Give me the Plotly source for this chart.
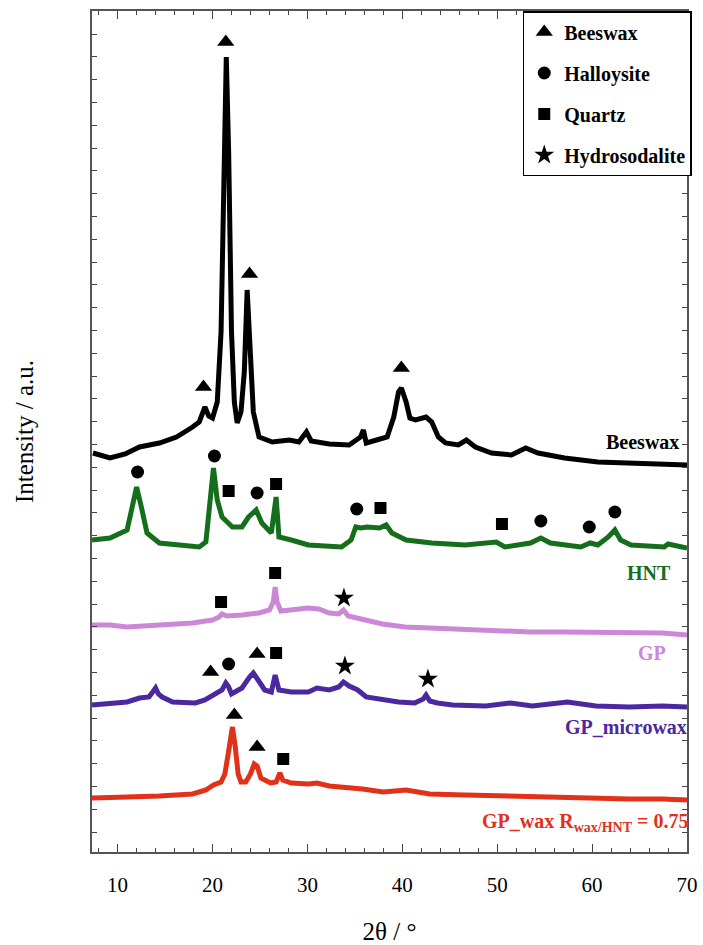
import plotly.graph_objects as go

# ---------------- data (2θ in degrees, intensity in arbitrary offset units) ----------------
bees_x = [7.4, 9.2, 10.8, 12.3, 14.4, 16.2, 17.9, 18.6, 19.2, 19.6, 20.0, 20.5, 20.9, 21.2, 21.45,
          21.7, 22.0, 22.3, 22.6, 23.0, 23.35, 23.65, 24.0, 24.3, 24.9, 26.3, 28.1, 29.1, 29.9,
          30.4, 32.3, 34.4, 35.6, 35.9, 36.2, 37.5, 38.4, 39.1, 39.6, 39.9, 40.4, 40.8, 41.4,
          42.5, 43.1, 43.8, 44.55, 45.9, 46.75, 47.7, 49.4, 51.5, 53.0, 54.3, 57.1, 60.6, 64.1,
          67.6, 70.0]
bees_y = [399, 394, 398, 405, 409, 415, 425, 430, 445, 436, 434, 450, 520, 700, 795,
          700, 520, 450, 429, 440, 480, 562, 480, 440, 415, 410, 412, 410, 420,
          411, 408, 407, 415, 422, 409, 412, 415, 435, 460, 464, 450, 434, 432,
          435, 430, 415, 409, 407, 412, 405, 399, 397, 404, 399, 394, 390, 389,
          387, 387]

hnt_x = [7.3, 9.2, 11.0, 11.6, 12.0, 12.5, 13.1, 14.4, 16.2, 18.6, 19.3, 19.8, 20.1, 20.5, 21.0,
         22.1, 23.1, 23.8, 24.6, 25.2, 26.2, 26.7, 27.0, 28.3, 30.1, 33.6, 34.6, 35.1, 35.6,
         36.3, 37.6, 38.3, 38.9, 40.4, 43.1, 46.6, 49.9, 50.8, 53.5, 54.6, 55.6, 58.8, 59.8,
         60.6, 61.7, 62.4, 63.0, 64.1, 67.6, 68.0, 70.0]
hnt_y = [312, 314, 322, 345, 365, 345, 319, 309, 307, 305, 310, 352, 384, 352, 335,
         325, 325, 335, 342, 329, 319, 355, 315, 312, 307, 305, 312, 325, 324,
         325, 324, 327, 319, 312, 309, 307, 310, 305, 309, 314, 309, 305, 309,
         307, 315, 322, 312, 307, 305, 308, 304]

gp_x = [7.3, 9.2, 11.0, 14.4, 17.9, 20.0, 20.7, 21.0, 21.5, 23.1, 24.9, 26.0, 26.4, 26.6, 26.8,
        27.2, 28.3, 30.1, 31.2, 32.3, 33.3, 33.8, 34.3, 35.9, 37.9, 40.3, 43.1, 46.6, 50.0,
        53.5, 57.0, 60.4, 63.9, 67.4, 70.0]
gp_y = [227, 227, 225, 227, 229, 232, 235, 238, 236, 237, 239, 242, 250, 265, 250,
        241, 242, 244, 243, 239, 238, 242, 236, 232, 228, 225, 224, 222, 221,
        220, 220, 220, 219, 219, 217]

micro_x = [7.3, 9.2, 11.0, 12.3, 13.3, 13.7, 14.0, 14.3, 14.7, 15.8, 18.2, 19.2, 20.3, 21.0, 21.4,
           21.7, 22.0, 23.1, 23.9, 24.3, 24.8, 25.5, 26.2, 26.6, 27.0, 28.3, 30.1, 31.0, 32.3,
           33.3, 33.8, 34.4, 35.3, 36.2, 39.6, 41.3, 42.2, 42.5, 42.9, 43.7, 45.3, 48.8, 51.4,
           53.7, 57.4, 60.4, 63.9, 67.4, 70.0]
micro_y = [147, 148, 150, 154, 155, 160, 164, 158, 155, 150, 149, 152, 159, 162, 169,
           165, 158, 164, 175, 179, 172, 162, 160, 177, 162, 160, 160, 164, 162,
           165, 170, 166, 162, 155, 150, 149, 153, 157, 151, 149, 147, 146, 149,
           146, 150, 146, 145, 146, 145]

wax_x = [7.3, 9.2, 11.0, 14.4, 17.9, 19.3, 20.1, 20.9, 21.3, 21.6, 21.9, 22.1, 22.4, 22.7, 23.0,
         23.5, 24.0, 24.4, 24.7, 25.1, 26.1, 26.7, 27.1, 27.4, 28.3, 30.1, 31.0, 32.3, 35.8,
         38.0, 40.4, 42.9, 46.6, 50.0, 53.5, 57.0, 60.4, 63.9, 67.4, 70.0]
wax_y = [54, 55, 55, 56, 58, 62, 67, 70, 78, 95, 115, 125, 105, 78, 70,
         70, 78, 88, 86, 74, 69, 70, 79, 72, 69, 68, 69, 66, 63,
         60, 62, 58, 57, 56, 55, 54, 54, 53, 53, 52]

# phase markers
tri_x = [19.05, 21.4, 23.9, 39.9, 19.8, 24.7, 22.3, 24.7]
tri_y = [465, 810, 578, 484, 180, 198, 137, 105]
cir_x = [12.1, 20.2, 24.7, 35.2, 54.6, 59.7, 62.4, 21.7]
cir_y = [380, 396, 359, 343, 331, 325, 340, 188]
sq_x = [21.7, 26.7, 37.7, 50.5, 20.9, 26.6, 26.7, 27.45]
sq_y = [361, 368, 344, 328, 250, 279, 199, 93]
star_x = [33.85, 33.95, 42.7]
star_y = [254, 186, 173]

x_ticks = [10, 20, 30, 40, 50, 60, 70]

# sample labels: text, colour, x(right edge), y, pixel shift
labels = [
    ("<b>Beeswax</b>", "black", 69.35, 410, 0),
    ("<b>HNT</b>", "rgb(20,110,28)", 68.5, 279, 0),
    ("<b>GP</b>", "rgb(205,135,215)", 68.0, 199, 0),
    ("<b>GP_microwax</b>", "rgb(75,40,160)", 70.0, 125, 2),
    ("<b>GP_wax R<sub>wax/HNT</sub> = 0.75</b>", "rgb(225,50,25)", 70.0, 30, 3),
]

SERIF = "Liberation Serif, Times New Roman, serif"

fig = go.Figure()

samples = [
    (bees_x, bees_y, "black"),
    (hnt_x, hnt_y, "rgb(20,110,28)"),
    (gp_x, gp_y, "rgb(205,135,215)"),
    (micro_x, micro_y, "rgb(75,40,160)"),
    (wax_x, wax_y, "rgb(225,50,25)"),
]
for xs, ys, col in samples:
    fig.add_trace(go.Scatter(x=xs, y=ys, mode="lines", line=dict(color=col, width=5),
                             showlegend=False, hoverinfo="skip"))

markers = [
    (tri_x, tri_y, "triangle-up", "Beeswax", 15),
    (cir_x, cir_y, "circle", "Halloysite", 13),
    (sq_x, sq_y, "square", "Quartz", 12),
    (star_x, star_y, "star", "Hydrosodalite", 15),
]
for i, (xs, ys, sym, name, sz) in enumerate(markers):
    fig.add_trace(go.Scatter(x=xs, y=ys, mode="markers", name="<b>" + name + "</b>",
                             legendgroup=name,
                             marker=dict(symbol=sym, color="black", size=sz, line=dict(width=0))))

for txt, col, xr, yy, sh in labels:
    fig.add_annotation(x=xr, y=yy, text=txt, showarrow=False, xanchor="right", yanchor="middle",
                       xshift=sh, font=dict(family=SERIF, size=20, color=col))

fig.update_layout(
    width=703, height=945,
    margin=dict(l=92, r=13, t=11, b=93),
    plot_bgcolor="white", paper_bgcolor="white",
    font=dict(family=SERIF, size=20, color="black"),
    showlegend=True,
    legend=dict(x=1.008, y=1, xanchor="right", yanchor="top", bordercolor="black", borderwidth=1.5,
                bgcolor="white", font=dict(family=SERIF, size=20, color="black"),
                tracegroupgap=12, traceorder="grouped", itemsizing="trace",
                entrywidth=140, entrywidthmode="pixels"),
)

fig.update_xaxes(
    range=[7.3, 70], tickvals=x_ticks, ticks="inside", ticklen=8, tickwidth=1.2,
    tickcolor="#444", showline=True, linecolor="#555", linewidth=1.5, mirror="allticks",
    showgrid=False, zeroline=False, ticklabelstandoff=13, automargin=False,
    tickfont=dict(family=SERIF, size=21),
    minor=dict(dtick=2, tick0=0, ticks="inside", ticklen=4, tickcolor="#444"),
    title=dict(text="2θ / °", font=dict(family=SERIF, size=25), standoff=30),
)
fig.update_yaxes(
    range=[0, 841], tick0=20, dtick=22.8, ticks="inside", ticklen=5, tickcolor="#444",
    showticklabels=False, showline=True, linecolor="#555", linewidth=1.5, mirror="allticks",
    showgrid=False, zeroline=False, automargin=False,
    title=dict(text="Intensity / a.u.", font=dict(family=SERIF, size=25), standoff=50),
)

fig.write_html("out.html")
